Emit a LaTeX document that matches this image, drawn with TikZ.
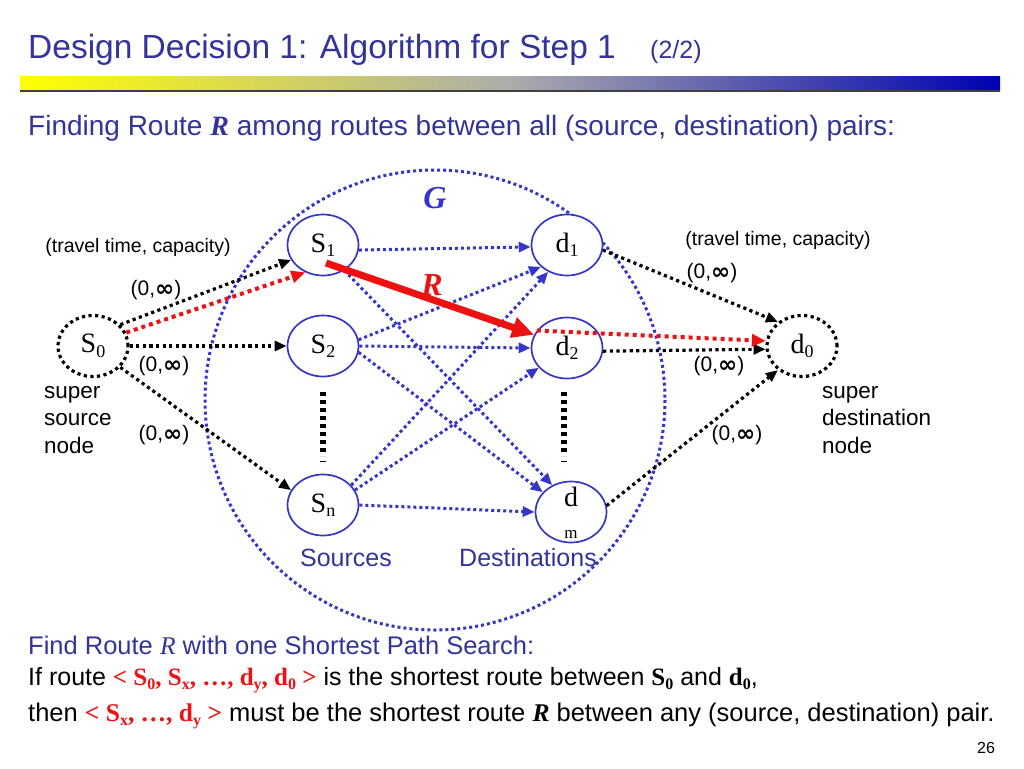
\documentclass[tikz,border=0pt]{standalone}
\usepackage{fontspec}
\setmainfont{Liberation Sans}
\newfontfamily\tnr{Liberation Serif}
\newfontfamily\dvs{DejaVu Sans}
\usetikzlibrary{shapes.geometric,arrows.meta}
\definecolor{tblue}{HTML}{333399}
\definecolor{eblue}{HTML}{3535C8}
\definecolor{rred}{HTML}{EE1111}
\newcommand\fsz[1]{\fontsize{#1}{#1}\selectfont}
\newcommand\nlab[2]{{\tnr\fsz{28}#1\raisebox{-0.35ex}{\fsz{18}#2}}}
\newcommand\rs[2]{#1\raisebox{-0.3ex}{\fsz{16}#2}}
\newcommand\zinf{(0,{\dvs\bfseries\fsz{23}\raisebox{-0.1ex}{∞}})}
\begin{document}
\begin{tikzpicture}[x=1pt,y=-1pt,
  gnode/.style={ellipse, draw=eblue, line width=1.7pt, fill=white, minimum width=71pt, minimum height=61pt, inner sep=0pt},
  snode/.style={ellipse, draw=black, line width=3.2pt, dash pattern=on 3.2pt off 3.4pt, minimum width=70pt, minimum height=61pt, inner sep=0pt},
  barr/.style={eblue, line width=3pt, dash pattern=on 3pt off 3pt, -{Triangle[length=12pt,width=10pt]}},
  karr/.style={black, line width=3.2pt, dash pattern=on 3.2pt off 3.4pt, -{Triangle[length=12pt,width=10pt]}},
  rarr/.style={rred, line width=4pt, dash pattern=on 4pt off 4pt, -{Triangle[length=14pt,width=12pt]}},
  lbl/.style={font=\fsz{21}, inner sep=0pt},
  tclbl/.style={font=\fsz{19.5}, inner sep=0pt},
  vdots/.style={line width=5.5pt, dash pattern=on 4pt off 4pt},
]
\useasboundingbox (0,0) rectangle (1024,768);
% title
\node[anchor=west, text=tblue, font=\fsz{33.5}, inner sep=0pt] (title) at (28,50) {Design Decision 1: Algorithm for Step 1};
\node[anchor=west, text=tblue, font=\fsz{25}, inner sep=0pt] (part) at (650,52) {(2/2)};
\shade[left color=yellow, right color=blue!70!black, middle color=gray!65] (20,76) rectangle (1000,91);
\draw[line width=1.2pt, black!75] (20,91) -- (1000,91);
\node[anchor=west, text=tblue, font=\fsz{28}, inner sep=0pt] (sub) at (28,128) {Finding Route {\tnr\bfseries\itshape R} among routes between all (source, destination) pairs:};

% big circle G
\draw[eblue, line width=3pt, dash pattern=on 3pt off 3pt] (435,400) circle[radius=230];
\node[text=eblue, font=\tnr\bfseries\itshape\fsz{32}, inner sep=0pt] (G) at (435,198) {G};

% nodes
\node[snode] (S0) at (93,346) {\nlab{S}{0}};
\node[snode] (d0) at (802,346) {\nlab{d}{0}};
\node[gnode] (S1) at (323,245) {\nlab{S}{1}};
\node[gnode] (S2) at (323,346) {\nlab{S}{2}};
\node[gnode] (Sn) at (323,505) {\nlab{S}{n}};
\node[gnode] (d1) at (567,245) {\nlab{d}{1}};
\node[gnode] (d2) at (567,348) {\nlab{d}{2}};
\node[gnode] (dm) at (571,512) {};
\node[font=\tnr\fsz{28}, inner sep=0pt] (dmd) at (571,497) {d};
\node[font=\tnr\fsz{17}, inner sep=0pt] (dmm) at (571,534) {m};
\coordinate (Rs) at (326,263);

% vertical dots
\draw[vdots] (323,392) -- (323,456);
\draw[line width=1pt] (320,461) -- (326,461);
\draw[vdots] (564,392) -- (564,456);
\draw[line width=1pt] (561,461) -- (567,461);

% blue edges
\draw[barr] (S1.-8) -- (d1.183);
\draw[barr] (S1.-50) -- (dm.125);
\draw[barr] (S2.10) -- (d1.220);
\draw[barr] (S2.east) -- (d2.west);
\draw[barr] (S2.-10) -- (dm.145);
\draw[barr] (Sn.35) -- (d1.235);
\draw[barr] (Sn.25) -- (d2.215);
\draw[barr] (Sn.east) -- (dm.west);

% black edges
\draw[karr] (S0.38) -- (S1.205);
\draw[karr] (S0.east) -- (S2.west);
\draw[karr] (S0.-38) -- (Sn.155);
\draw[karr] (d1.-8) -- (d0.135);
\draw[karr] (d2.-5) -- (d0.185);
\draw[karr] (dm.10) -- (d0.-135);

% red edges
\draw[rarr] (S0.22) -- (S1.237);
\draw[rarr] (d2.150) -- (d0.172);
\draw[rred, line width=7pt, -{Triangle[length=22pt,width=20pt]}] (Rs) -- (d2.158);
\node[text=rred, font=\tnr\bfseries\itshape\fsz{32}, inner sep=0pt] (R) at (432,285) {R};

% labels
\node[tclbl] (tc1) at (138,247) {(travel time, capacity)};
\node[tclbl] (tc2) at (778,240) {(travel time, capacity)};
\node[lbl] (l1) at (156,290) {\zinf};
\node[lbl] (l2) at (164,366) {\zinf};
\node[lbl] (l3) at (164,435) {\zinf};
\node[lbl] (r1) at (712,273) {\zinf};
\node[lbl] (r2) at (719,366) {\zinf};
\node[lbl] (r3) at (737,435) {\zinf};
\node[anchor=north west, font=\fsz{22.5}, align=left, inner sep=0pt] (ssn) at (44,386) {super\\[5pt]source\\[5pt]node};
\node[anchor=north west, font=\fsz{22.5}, align=left, inner sep=0pt] (sdn) at (822,386) {super\\[5pt]destination\\[5pt]node};
\node[text=tblue, font=\fsz{25}, inner sep=0pt] (src) at (346,558) {Sources};
\node[text=tblue, font=\fsz{25}, inner sep=0pt] (dst) at (528,558) {Destinations};

% bottom text
\node[anchor=west, text=tblue, font=\fsz{25.5}, inner sep=0pt] (b1) at (28,645) {Find Route {\tnr\itshape R} with one Shortest Path Search:};
\node[anchor=west, font=\fsz{25}, inner sep=0pt] (b2) at (28,680) {If route {\tnr\bfseries\color{rred}< \rs{S}{0}, \rs{S}{x}, \dots, \rs{d}{y}, \rs{d}{0} >} is the shortest route between {\tnr\bfseries\rs{S}{0}} and {\tnr\bfseries\rs{d}{0}},};
\node[anchor=west, font=\fsz{25.5}, inner sep=0pt] (b3) at (28,716) {then {\tnr\bfseries\color{rred}< \rs{S}{x}, \dots, \rs{d}{y} >} must be the shortest route {\tnr\bfseries\itshape R} between any (source, destination) pair.};
\node[font=\fsz{16}, inner sep=0pt] (pg) at (986,748) {26};
\end{tikzpicture}
\end{document}
